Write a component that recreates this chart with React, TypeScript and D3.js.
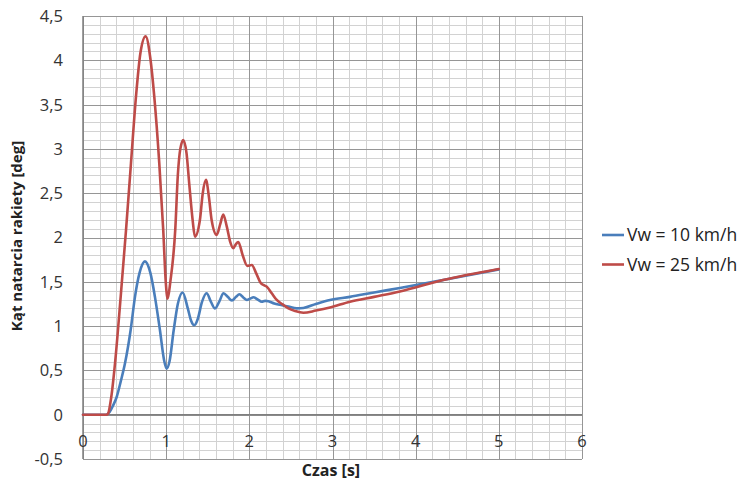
import React from "react";
import * as d3 from "d3";

// Time axis samples (s) and angle of attack (deg) for each wind speed
const timeVw10 = [0, 0.28, 0.32, 0.36, 0.405, 0.455, 0.505, 0.573, 0.625, 0.68, 0.745, 0.81, 0.865, 0.925, 0.974, 1.006, 1.04, 1.09, 1.14, 1.198, 1.26, 1.3, 1.338, 1.38, 1.43, 1.486, 1.54, 1.587, 1.64, 1.69, 1.74, 1.79, 1.84, 1.88, 1.93, 1.97, 2.01, 2.05, 2.1, 2.15, 2.19, 2.23, 2.3, 2.37, 2.47, 2.57, 2.65, 2.8, 2.97, 3.21, 3.5, 3.81, 4.33, 5.0];
const angleVw10 = [0, 0, 0.03, 0.1, 0.2, 0.38, 0.58, 0.956, 1.33, 1.6, 1.73, 1.6, 1.33, 0.956, 0.62, 0.52, 0.6, 0.95, 1.25, 1.38, 1.2, 1.06, 1.01, 1.08, 1.27, 1.37, 1.27, 1.2, 1.28, 1.37, 1.33, 1.29, 1.33, 1.36, 1.32, 1.295, 1.31, 1.325, 1.3, 1.275, 1.285, 1.28, 1.255, 1.24, 1.22, 1.2, 1.205, 1.25, 1.295, 1.33, 1.38, 1.43, 1.52, 1.64];

const timeVw25 = [0, 0.28, 0.3, 0.34, 0.385, 0.453, 0.517, 0.577, 0.637, 0.69, 0.753, 0.81, 0.857, 0.917, 0.965, 0.995, 1.018, 1.05, 1.11, 1.14, 1.17, 1.206, 1.245, 1.278, 1.318, 1.346, 1.406, 1.44, 1.478, 1.515, 1.546, 1.607, 1.65, 1.686, 1.73, 1.77, 1.807, 1.835, 1.867, 1.92, 1.975, 2.03, 2.08, 2.135, 2.18, 2.21, 2.27, 2.33, 2.4, 2.47, 2.55, 2.65, 2.8, 2.97, 3.21, 3.5, 3.81, 4.33, 5.0];
const angleVw25 = [0, 0, 0.01, 0.2, 0.58, 1.33, 2.08, 2.84, 3.59, 4.08, 4.27, 4.02, 3.59, 2.84, 2.08, 1.5, 1.31, 1.5, 2.1, 2.7, 3.0, 3.1, 2.95, 2.6, 2.2, 2.01, 2.2, 2.5, 2.65, 2.45, 2.2, 2.03, 2.15, 2.26, 2.12, 1.95, 1.88, 1.92, 1.95, 1.8, 1.68, 1.69, 1.6, 1.49, 1.46, 1.445, 1.37, 1.295, 1.245, 1.2, 1.17, 1.15, 1.175, 1.21, 1.275, 1.33, 1.39, 1.52, 1.645];

const seriesNames = ["Vw = 10 km/h", "Vw = 25 km/h"];
const seriesColors = ["#4A7EBB", "#BE4B48"];

const xTickValues = [0, 1, 2, 3, 4, 5, 6];
const yTickValues = [-0.5, 0, 0.5, 1, 1.5, 2, 2.5, 3, 3.5, 4, 4.5];

const xTitle = "Czas [s]";
const yTitle = "Kąt natarcia rakiety [deg]";

const W = 745;
const H = 486;
const FONT = "'Open Sans', 'Noto Sans', sans-serif";

export default function App() {
  const x = d3.scaleLinear().domain([0, 6]).range([83, 582]);
  const y = d3.scaleLinear().domain([-0.5, 4.5]).range([459, 16]);

  const minorX = d3.range(0, 30 + 1).map((i) => i * 0.2);
  const minorY = d3.range(0, 50 + 1).map((i) => -0.5 + i * 0.1);

  const fmt = (v: number) => String(v).replace(".", ",");

  const line = d3
    .line<[number, number]>()
    .x((d) => x(d[0]))
    .y((d) => y(d[1]))
    .curve(d3.curveMonotoneX);

  const series = [
    timeVw10.map((t, i) => [t, angleVw10[i]] as [number, number]),
    timeVw25.map((t, i) => [t, angleVw25[i]] as [number, number]),
  ];

  const [x0, x1] = x.range();
  const [y0, y1] = y.range();

  return (
    <svg
      width={W}
      height={H}
      style={{ position: "absolute", left: 0, top: 0, background: "#fff" }}
      fontFamily={FONT}
    >
      {/* minor grid */}
      <g stroke="#d2d2d2" strokeWidth={1}>
        {minorX.map((v, i) => (
          <line key={"mx" + i} x1={Math.round(x(v)) + 0.5} x2={Math.round(x(v)) + 0.5} y1={y1} y2={y0} />
        ))}
        {minorY.map((v, i) => (
          <line key={"my" + i} x1={x0} x2={x1} y1={Math.round(y(v)) + 0.5} y2={Math.round(y(v)) + 0.5} />
        ))}
      </g>
      {/* major grid */}
      <g stroke="#969696" strokeWidth={1}>
        {xTickValues.map((v) => (
          <line key={"gx" + v} x1={Math.round(x(v)) + 0.5} x2={Math.round(x(v)) + 0.5} y1={y1} y2={y0} />
        ))}
        {yTickValues.map((v) => (
          <line key={"gy" + v} x1={x0} x2={x1} y1={Math.round(y(v)) + 0.5} y2={Math.round(y(v)) + 0.5} />
        ))}
      </g>
      {/* axes */}
      <g stroke="#7f7f7f" strokeWidth={1.5}>
        <line x1={x0} x2={x0} y1={y1} y2={y0} />
        <line x1={x0} x2={x1} y1={y(0)} y2={y(0)} />
      </g>

      {/* y tick labels */}
      <g fontSize={16.5} fill="#333" textAnchor="end">
        {yTickValues.map((v) => (
          <text key={"ty" + v} x={63} y={y(v)} dy="0.36em">
            {fmt(v)}
          </text>
        ))}
      </g>
      {/* x tick labels */}
      <g fontSize={16.5} fill="#333" textAnchor="middle">
        {xTickValues.map((v) => (
          <text key={"tx" + v} x={x(v)} y={447}>
            {v}
          </text>
        ))}
      </g>

      {/* series */}
      {series.map((s, i) => (
        <path
          key={"s" + i}
          d={line(s) || ""}
          fill="none"
          stroke={seriesColors[i]}
          strokeWidth={2.6}
          strokeLinejoin="round"
          strokeLinecap="round"
        />
      ))}

      {/* axis titles */}
      <text x={331} y={476} textAnchor="middle" fontSize={16} fontWeight={700} fill="#222">
        {xTitle}
      </text>
      <text
        transform={`translate(22,${236}) rotate(-90)`}
        textAnchor="middle"
        fontSize={15}
        fontWeight={700}
        fill="#222"
      >
        {yTitle}
      </text>

      {/* legend */}
      {seriesNames.map((name, i) => (
        <g key={"lg" + i} transform={`translate(602,${235 + i * 29.5})`}>
          <line x1={0} x2={22} y1={0} y2={0} stroke={seriesColors[i]} strokeWidth={2.6} />
          <text x={25} y={0} dy="0.36em" fontSize={17.5} fill="#222">
            {name}
          </text>
        </g>
      ))}
    </svg>
  );
}
